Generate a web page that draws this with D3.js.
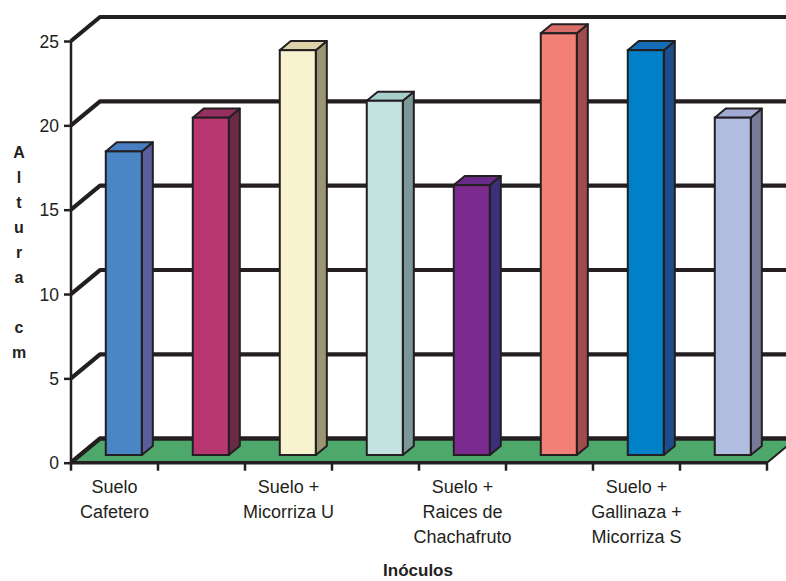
<!DOCTYPE html>
<html>
<head>
<meta charset="utf-8">
<script src="https://cdn.jsdelivr.net/npm/d3@7"></script>
<style>
  html, body { margin: 0; padding: 0; background: #fff; }
  svg { display: block; }
</style>
</head>
<body>
<svg id="chart" width="786" height="581"></svg>
<script>
// ---- data ----
const categories = ["Suelo Cafetero", "", "Suelo + Micorriza U", "", "Suelo + Raices de Chachafruto", "", "Suelo + Gallinaza + Micorriza S", ""];
const labelLines = [["Suelo", "Cafetero"], [], ["Suelo +", "Micorriza U"], [], ["Suelo +", "Raices de", "Chachafruto"], [], ["Suelo +", "Gallinaza +", "Micorriza S"], []];
const values = [18, 20, 24, 21, 16, 25, 24, 20];
const yTicks = [0, 5, 10, 15, 20, 25];
const frontColors = ["#4a86c6", "#b93771", "#f8f2cf", "#c4e2e0", "#7b2a8d", "#f28077", "#0080c6", "#b0bde0"];
const sideColors  = ["#5b5e9c", "#6a2945", "#9c9574", "#7a9896", "#3d307a", "#a04b4c", "#1e4d8c", "#777a99"];
const topColors   = ["#4a7ec2", "#953060", "#dcd3a8", "#a8cfcc", "#6a2b88", "#d86c68", "#176cb8", "#a2aad4"];
const yTitle = ["A", "l", "t", "u", "r", "a", "", "c", "m"];
const xTitle = "Inóculos";

// ---- layout ----
const ink = "#231f20";
const svg = d3.select("#chart");
const idx = d3.range(categories.length);
const x = d3.scaleBand().domain(idx).range([71, 767]).paddingInner(0.586).paddingOuter(0.293);
const y = d3.scaleLinear().domain([0, 25]).range([462.7, 41]);
const DX = 29, DY = -24;       // full depth offset
const fF = 0.32, fB = 0.70;    // bar front/back depth fractions

// back wall grid lines
svg.append("g").selectAll("path").data(yTicks).join("path")
  .attr("d", v => `M${x.range()[0]},${y(v)} L${x.range()[0] + DX},${y(v) + DY} L800,${y(v) + DY}`)
  .attr("fill", "none").attr("stroke", ink).attr("stroke-width", 4.2).attr("stroke-linejoin", "round");

// floor
const x0 = x.range()[0], x1 = x.range()[1], y0 = y(0);
svg.append("path")
  .attr("d", `M${x0},${y0} L${x1},${y0} L${x1 + DX},${y0 + DY} L${x0 + DX},${y0 + DY} Z`)
  .attr("fill", "#4ea86b").attr("stroke", ink).attr("stroke-width", 2);
svg.append("path")
  .attr("d", `M${x0},${y0} L${x0 + DX},${y0 + DY} L800,${y0 + DY}`)
  .attr("fill", "none").attr("stroke", ink).attr("stroke-width", 4.2);
svg.append("line").attr("x1", x0).attr("x2", x1).attr("y1", y0).attr("y2", y0)
  .attr("stroke", ink).attr("stroke-width", 3.5);

// bars
const bw = x.bandwidth();
const fdx = fF * DX, fdy = fF * DY;
const ddx = (fB - fF) * DX, ddy = (fB - fF) * DY;
const bars = svg.append("g").selectAll("g").data(idx).join("g");
bars.each(function(i) {
  const g = d3.select(this);
  const L = x(i) + fdx, R = L + bw;
  const T = y(values[i]) + fdy, B = y(0) + fdy;
  g.append("path").attr("d", `M${R},${T} L${R + ddx},${T + ddy} L${R + ddx},${B + ddy} L${R},${B} Z`)
    .attr("fill", sideColors[i]).attr("stroke", ink).attr("stroke-width", 2).attr("stroke-linejoin", "round");
  g.append("path").attr("d", `M${L},${T} L${L + ddx},${T + ddy} L${R + ddx},${T + ddy} L${R},${T} Z`)
    .attr("fill", topColors[i]).attr("stroke", ink).attr("stroke-width", 2).attr("stroke-linejoin", "round");
  g.append("rect").attr("x", L).attr("y", T).attr("width", bw).attr("height", B - T)
    .attr("fill", frontColors[i]).attr("stroke", ink).attr("stroke-width", 2);
});

// y axis
const yAxis = svg.append("g").attr("transform", `translate(${x0},0)`)
  .call(d3.axisLeft(y).tickValues(yTicks).tickSize(7).tickPadding(5).tickFormat(d3.format("d")));
yAxis.select(".domain").attr("stroke", ink).attr("stroke-width", 2.5).attr("d", `M0,${y(25)} V${y(0)}`);
yAxis.selectAll(".tick line").attr("stroke", ink).attr("stroke-width", 2.5);
yAxis.selectAll(".tick text").attr("fill", ink).attr("font-family", "Liberation Sans, Arial, sans-serif")
  .attr("font-size", 17.5).attr("dy", "0.35em");

// x axis ticks at band boundaries
const bounds = d3.range(categories.length + 1).map(k => x0 + k * x.step());
svg.append("g").selectAll("line").data(bounds).join("line")
  .attr("x1", d => d).attr("x2", d => d).attr("y1", y0).attr("y2", y0 + 8)
  .attr("stroke", ink).attr("stroke-width", 2.5);

// category labels
const lab = svg.append("g").attr("font-family", "Liberation Sans, Arial, sans-serif").attr("font-size", 18)
  .attr("fill", ink).attr("text-anchor", "middle");
idx.forEach(i => {
  labelLines[i].forEach((t, j) => {
    lab.append("text").attr("x", x(i) + bw / 2).attr("y", 493 + j * 25).text(t);
  });
});

// y title (stacked letters)
svg.append("g").attr("font-family", "Liberation Sans, Arial, sans-serif").attr("font-size", 16)
  .attr("font-weight", "bold").attr("fill", ink).attr("text-anchor", "middle")
  .selectAll("text").data(yTitle).join("text")
  .attr("x", 19).attr("y", (d, j) => 158 + j * 25).text(d => d);

// x title
svg.append("text").attr("x", 418).attr("y", 576).attr("text-anchor", "middle")
  .attr("font-family", "Liberation Sans, Arial, sans-serif").attr("font-size", 17).attr("font-weight", "bold")
  .attr("fill", ink).text(xTitle);
</script>
</body>
</html>
